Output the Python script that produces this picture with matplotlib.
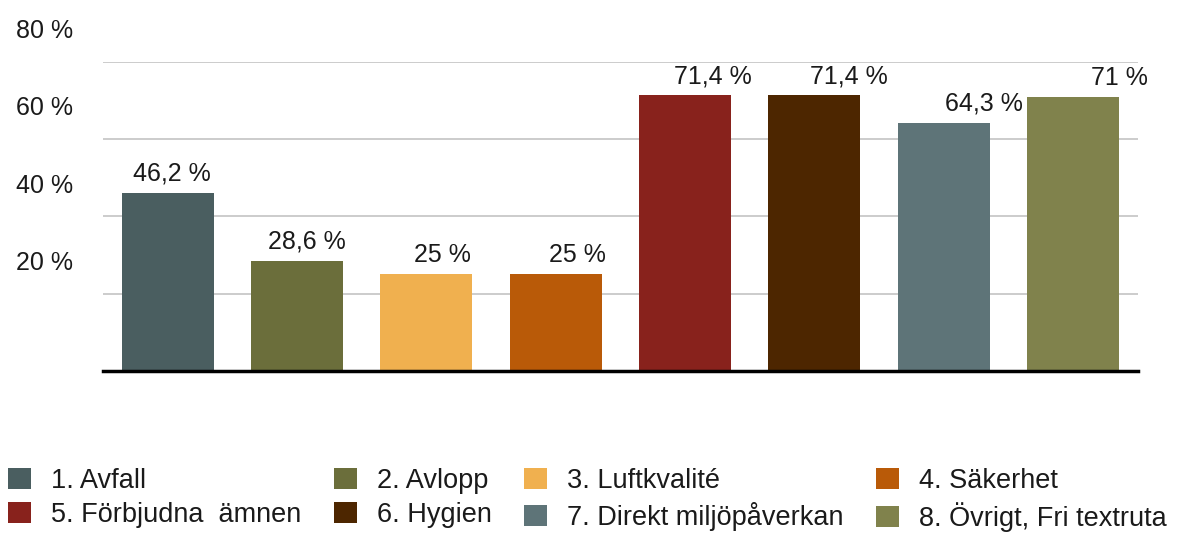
import matplotlib.pyplot as plt
import matplotlib.transforms as mtransforms
from matplotlib.patches import Patch

# 数据
categories = ["1. Avfall", "2. Avlopp", "3. Luftkvalité", "4. Säkerhet",
              "5. Förbjudna  ämnen", "6. Hygien", "7. Direkt miljöpåverkan",
              "8. Övrigt, Fri textruta"]
values = [46.2, 28.6, 25, 25, 71.4, 71.4, 64.3, 71]
value_labels = ["46,2 %", "28,6 %", "25 %", "25 %", "71,4 %", "71,4 %", "64,3 %", "71 %"]
y_ticks = [20, 40, 60, 80]
y_tick_labels = ["20 %", "40 %", "60 %", "80 %"]
colors = ['#4a5e60', '#6b6e3b', '#f0b04f', '#b95a08',
          '#88221c', '#4d2600', '#5e7478', '#80824c']

plt.rcParams['font.family'] = ['Liberation Sans', 'DejaVu Sans']
text_color = '#1a1a1a'

fig = plt.figure(figsize=(11.95, 5.33), dpi=100)
ax = fig.add_axes([0.0862, 0.304, 0.952 - 0.0862, 0.8837 - 0.304])

x = range(len(categories))
bars = ax.bar(x, values, width=0.71, color=colors, zorder=3)

# 柱顶数值标签（原图中标签逐渐向右偏移）
for i, (b, lab) in enumerate(zip(bars, value_labels)):
    cx = b.get_x() + b.get_width() / 2
    ax.annotate(lab, (cx + 0.03 + 0.047 * i, b.get_height()),
                xytext=(0, 5), textcoords='offset points',
                ha='center', va='bottom', fontsize=18, color=text_color)

ax.set_xlim(-0.5, len(categories) - 0.5)
ax.set_ylim(0, 80)
ax.set_xticks([])
ax.set_yticks(y_ticks)
ax.set_yticklabels(y_tick_labels, fontsize=18, color=text_color)
ax.tick_params(axis='y', length=0, pad=21.5)
ax.grid(axis='y', color='#c8c8c8', linewidth=1.3, zorder=0)

# y 轴标签在网格线上方
offset = mtransforms.ScaledTranslation(0, 24 / 72, fig.dpi_scale_trans)
for lab in ax.get_yticklabels():
    lab.set_transform(lab.get_transform() + offset)

for s in ['left', 'right', 'top']:
    ax.spines[s].set_visible(False)
ax.spines['bottom'].set_color('black')
ax.spines['bottom'].set_linewidth(2.5)
ax.spines['bottom'].set_zorder(4)

# 图例按行排列
handles = [Patch(facecolor=c, edgecolor='none') for c in colors]
order = [0, 4, 1, 5, 2, 6, 3, 7]
fig.legend([handles[i] for i in order], [categories[i] for i in order],
           loc='lower left', bbox_to_anchor=(0.0067, 0.002), ncol=4,
           frameon=False, fontsize=19.5, borderpad=0, borderaxespad=0,
           handlelength=0.85, handleheight=0.78, handletextpad=0.74,
           columnspacing=1.2, labelspacing=0.3, labelcolor=text_color)

fig.savefig('out.png', dpi=100)
